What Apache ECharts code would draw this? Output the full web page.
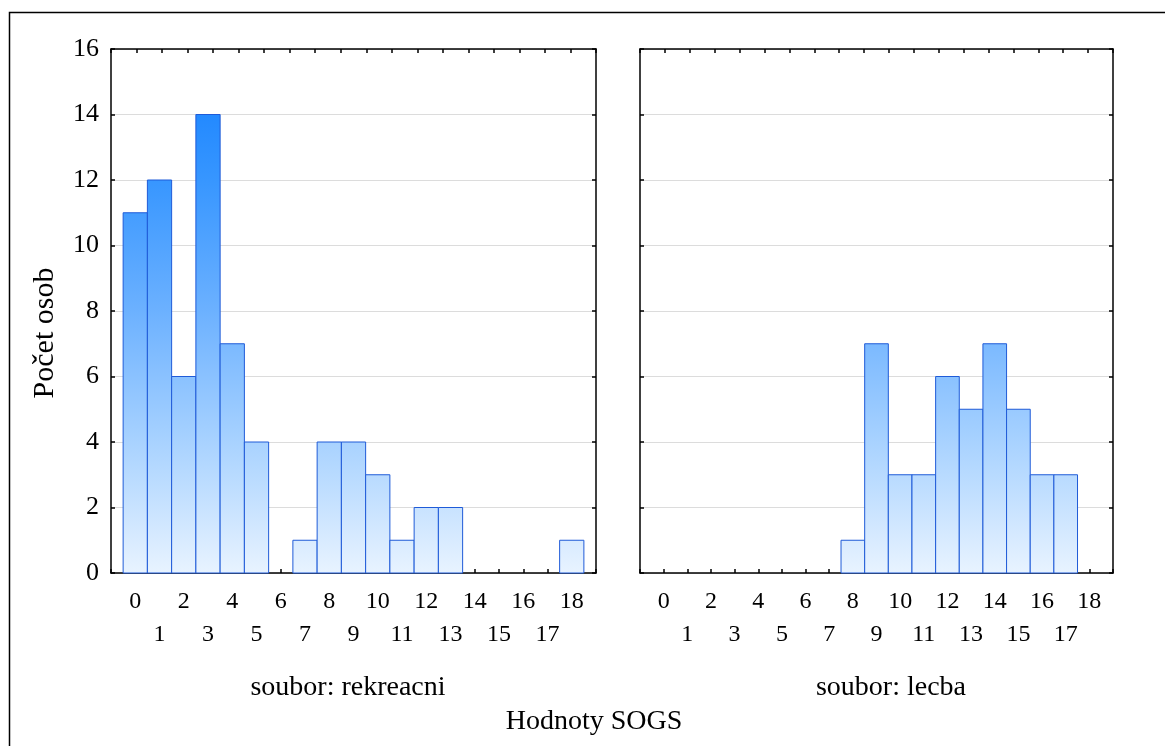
<!DOCTYPE html>
<html>
<head>
<meta charset="utf-8">
<script src="https://cdn.jsdelivr.net/npm/echarts@6/dist/echarts.min.js"></script>
<style>
  html, body { margin: 0; padding: 0; background: #fff; }
  #chart { width: 1165px; height: 746px; }
</style>
</head>
<body>
<div id="chart"></div>
<script>
// SOGS values (bins) and counts per group
const sogsValues = [0, 1, 2, 3, 4, 5, 6, 7, 8, 9, 10, 11, 12, 13, 14, 15, 16, 17, 18];
const countsRekreacni = [11, 12, 6, 14, 7, 4, 0, 1, 4, 4, 3, 1, 2, 2, 0, 0, 0, 0, 1];
const countsLecba = [0, 0, 0, 0, 0, 0, 0, 0, 1, 7, 3, 3, 6, 5, 7, 5, 3, 3, 0];
const yTicks = [0, 2, 4, 6, 8, 10, 12, 14, 16];

const FONT = '"Liberation Serif", "DejaVu Serif", serif';
const gradStops = [
  { offset: 0, color: '#0f7dff' },
  { offset: 0.25, color: '#3796ff' },
  { offset: 0.5, color: '#6cb1ff' },
  { offset: 0.75, color: '#a8d2ff' },
  { offset: 1, color: '#e8f3ff' }
];

function renderBar(params, api) {
  const x = api.value(0);
  const v = api.value(1);
  if (!v) return null;
  const p1 = api.coord([x - 0.5, v]);
  const p2 = api.coord([x + 0.5, 0]);
  const top = api.coord([0, yTicks[yTicks.length - 1]]);
  const bottom = api.coord([0, 0]);
  return {
    type: 'rect',
    shape: { x: p1[0], y: p1[1], width: p2[0] - p1[0], height: p2[1] - p1[1] },
    style: {
      fill: new echarts.graphic.LinearGradient(0, top[1], 0, bottom[1], gradStops, true),
      stroke: '#1f5bd8',
      lineWidth: 1
    }
  };
}

const chart = echarts.init(document.getElementById('chart'));

function bottomAxis(gridIndex) {
  return {
    type: 'value', gridIndex: gridIndex, position: 'bottom',
    min: -1, max: 19, interval: 1,
    splitLine: { show: false },
    axisLine: { onZero: false, lineStyle: { color: '#000', width: 1.5 } },
    axisTick: { inside: true, length: 4, lineStyle: { color: '#000', width: 1.5 } },
    axisLabel: {
      color: '#000', fontFamily: FONT, fontSize: 24, lineHeight: 33, margin: 12,
      formatter: function (v) {
        if (sogsValues.indexOf(v) < 0) return '';
        return v % 2 === 0 ? String(v) : '\n' + v;
      }
    }
  };
}
function topAxis(gridIndex) {
  return {
    type: 'value', gridIndex: gridIndex, position: 'top',
    min: 0, max: 19, interval: 1,
    splitLine: { show: false },
    axisLine: { onZero: false, lineStyle: { color: '#000', width: 1.5 } },
    axisTick: { inside: true, length: 4, lineStyle: { color: '#000', width: 1.5 } },
    axisLabel: { show: false }
  };
}
function leftAxis(gridIndex, labels) {
  return {
    type: 'value', gridIndex: gridIndex, position: 'left',
    min: 0, max: 16, interval: 2,
    splitLine: { show: true, lineStyle: { color: '#dcdcdc', width: 1 } },
    axisLine: { show: true, onZero: false, lineStyle: { color: '#000', width: 1.5 } },
    axisTick: { show: true, inside: true, length: 4, lineStyle: { color: '#000', width: 1.5 } },
    axisLabel: { show: labels, color: '#000', fontFamily: FONT, fontSize: 26, margin: 12 }
  };
}
function rightAxis(gridIndex) {
  return {
    type: 'value', gridIndex: gridIndex, position: 'right',
    min: 0, max: 16, interval: 2,
    splitLine: { show: false },
    axisLine: { show: true, onZero: false, lineStyle: { color: '#000', width: 1.5 } },
    axisTick: { show: true, inside: true, length: 4, lineStyle: { color: '#000', width: 1.5 } },
    axisLabel: { show: false }
  };
}

const option = {
  backgroundColor: '#fff',
  animation: false,
  grid: [
    { left: 111, top: 49, width: 485, height: 524 },
    { left: 640, top: 49, width: 473, height: 524 }
  ],
  xAxis: [bottomAxis(0), topAxis(0), bottomAxis(1), topAxis(1)],
  yAxis: [leftAxis(0, true), rightAxis(0), leftAxis(1, false), rightAxis(1)],
  series: [
    {
      type: 'custom', xAxisIndex: 0, yAxisIndex: 0,
      renderItem: renderBar,
      data: sogsValues.map((v, i) => [v, countsRekreacni[i]])
    },
    {
      type: 'custom', xAxisIndex: 2, yAxisIndex: 2,
      renderItem: renderBar,
      data: sogsValues.map((v, i) => [v, countsLecba[i]])
    }
  ],
  graphic: [
    {
      type: 'rect', silent: true,
      shape: { x: 9.5, y: 12.5, width: 1200, height: 800 },
      style: { fill: 'none', stroke: '#000', lineWidth: 1.5 }
    },
    {
      type: 'text', x: 45, y: 333, rotation: Math.PI / 2,
      style: {
        text: 'Počet osob', font: '30px ' + FONT, fill: '#000',
        align: 'center', verticalAlign: 'middle'
      }
    },
    {
      type: 'text',
      style: { text: 'soubor: rekreacni', x: 348, y: 688, font: '28px ' + FONT, fill: '#000', align: 'center', verticalAlign: 'middle' }
    },
    {
      type: 'text',
      style: { text: 'soubor: lecba', x: 891, y: 688, font: '28px ' + FONT, fill: '#000', align: 'center', verticalAlign: 'middle' }
    },
    {
      type: 'text',
      style: { text: 'Hodnoty SOGS', x: 594, y: 722, font: '28px ' + FONT, fill: '#000', align: 'center', verticalAlign: 'middle' }
    }
  ]
};

chart.setOption(option);
window.addEventListener('resize', () => chart.resize());
</script>
</body>
</html>
